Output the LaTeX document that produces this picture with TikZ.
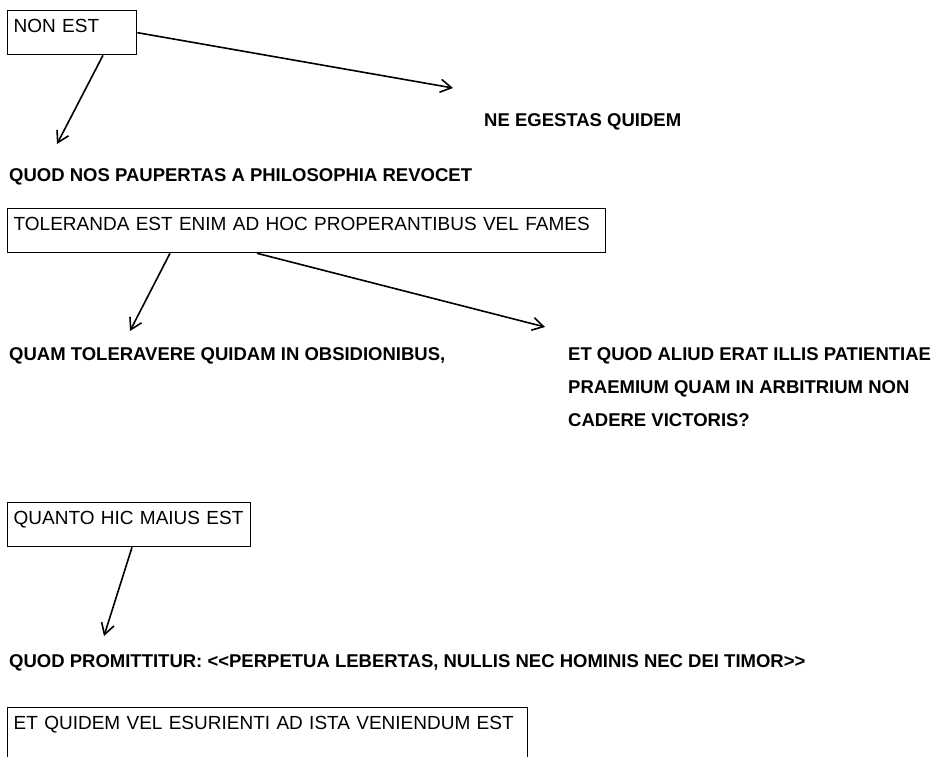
\documentclass[tikz,border=0pt]{standalone}
\usepackage{fontspec}
\setmainfont{Liberation Sans}
\usetikzlibrary{arrows.meta,calc}
\newcommand{\regfont}{\fontsize{19}{22}\selectfont}
\newcommand{\boldfont}{\fontsize{18.5}{22}\selectfont\bfseries}
\begin{document}
\begin{tikzpicture}[x=1pt,y=-1pt,
  tbox/.style={draw, line width=1.3pt, inner xsep=6pt, inner ysep=0pt,
    text height=22pt, text depth=22pt, align=left, anchor=north west, font=\regfont},
  lbl/.style={anchor=base west, inner sep=0pt, font=\boldfont},
  conn/.style={line width=1.6pt, -{Straight Barb[length=11pt,width=13pt,line width=1.6pt]}}]
\useasboundingbox (0,0) rectangle (946,757);
\clip (0,0) rectangle (946,757);

% boxes
\node[tbox, minimum width=129, text width=117] (b1) at (7,10) {NON EST};
\node[tbox, minimum width=598, text width=586] (b2) at (7,208) {TOLERANDA EST ENIM AD HOC PROPERANTIBUS VEL FAMES};
\node[tbox, minimum width=243, text width=231] (b3) at (7,502) {QUANTO HIC MAIUS EST};
\node[tbox, minimum width=520, text width=508, text depth=60pt] (b4) at (7,707) {ET QUIDEM VEL ESURIENTI AD ISTA VENIENDUM EST};

% labels
\node[lbl] (l1) at (484,127) {NE EGESTAS QUIDEM};
\node[lbl] (l2) at (9,182) {QUOD NOS PAUPERTAS A PHILOSOPHIA REVOCET};
\node[lbl] (l3) at (9,360) {QUAM TOLERAVERE QUIDAM IN OBSIDIONIBUS,};
\node[lbl] (l4) at (568,360) {ET QUOD ALIUD ERAT ILLIS PATIENTIAE};
\node[lbl] (l5) at (568,393) {PRAEMIUM QUAM IN ARBITRIUM NON};
\node[lbl] (l6) at (568,426) {CADERE VICTORIS?};
\node[lbl] (l7) at (9,667) {QUOD PROMITTITUR: {<}{<}PERPETUA LEBERTAS, NULLIS NEC HOMINIS NEC DEI TIMOR{>}{>}};

% arrow tips
\coordinate (t1) at (453,88);
\coordinate (t2) at (57,144);
\coordinate (t3) at (130,331);
\coordinate (t4) at (545,327);
\coordinate (t5) at (104,636);

% connectors
\draw[conn] (b1.east) -- (t1);
\draw[conn] ($(b1.south west)+(96,0)$) -- (t2);
\draw[conn] ($(b2.south west)+(163,0)$) -- (t3);
\draw[conn] ($(b2.south west)+(250,0)$) -- (t4);
\draw[conn] ($(b3.south west)+(125,0)$) -- (t5);
\end{tikzpicture}
\end{document}
